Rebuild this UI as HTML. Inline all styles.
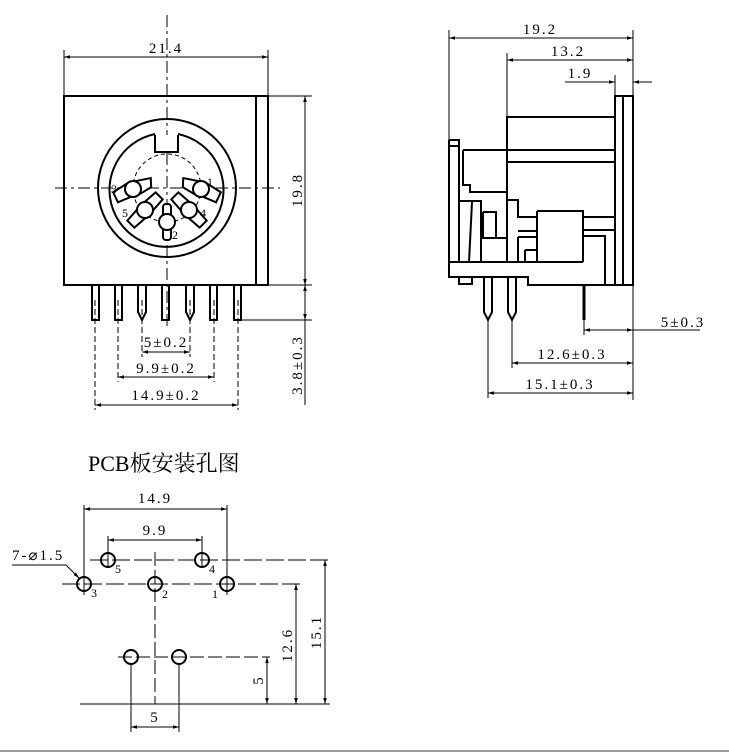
<!DOCTYPE html>
<html><head><meta charset="utf-8"><style>
html,body{margin:0;padding:0;background:#fff;}
svg{display:block;}
text{font-family:"Liberation Serif","Noto Serif CJK SC",serif;fill:#000;}
.d{letter-spacing:2px;}
</style></head><body>
<svg width="729" height="752" viewBox="0 0 729 752" xmlns="http://www.w3.org/2000/svg">
<defs>
<marker id="a" viewBox="0 0 10 10" refX="10" refY="5" markerWidth="8" markerHeight="6" orient="auto-start-reverse"><path d="M0,2 L10,5 L0,8 z" fill="#000"/></marker>
</defs>
<g fill="none" stroke="#000" stroke-width="1">
<!-- FRONT VIEW -->
<rect x="64" y="96" width="204" height="189" stroke-width="2"/>
<line x1="256" y1="96" x2="256" y2="285" stroke-width="2"/>
<line x1="167" y1="15" x2="167" y2="330" stroke-dasharray="12,4,3,4"/>
<line x1="55" y1="188" x2="280" y2="188" stroke-dasharray="12,4,3,4"/>
<circle cx="167" cy="188" r="69" stroke-width="2"/>
<path d="M155,135 L155,152 L178,152 L178,135" stroke-width="2" fill="#fff"/>
<path d="M155,134 A57,57 0 1 0 178,134" stroke-width="2"/>
<circle cx="167" cy="188" r="34" stroke-dasharray="4,3"/>
<g stroke-width="2" fill="#fff">
<g transform="translate(133,189) rotate(-15)"><path d="M-20,-2 L-4,-7 L4,-7 L20,-6 L18,3 L4,7 L-4,7 L-18,9 z"/><circle r="8"/></g>
<g transform="translate(201,189) rotate(15) scale(-1,1)"><path d="M-20,-2 L-4,-7 L4,-7 L20,-6 L18,3 L4,7 L-4,7 L-18,9 z"/><circle r="8"/></g>
<g transform="translate(145,210) rotate(45)"><path d="M-5,-20 L5,-20 L6,-5 L6,5 L5,20 L-5,20 L-6,5 L-6,-5 z"/><circle r="8"/></g>
<g transform="translate(189,210) rotate(-45)"><path d="M-5,-20 L5,-20 L6,-5 L6,5 L5,20 L-5,20 L-6,5 L-6,-5 z"/><circle r="8"/></g>
<g transform="translate(167,222)"><rect x="-4" y="-18" width="8" height="36" rx="3"/><circle r="8"/></g>
</g>
<!-- pins -->
<g stroke-width="2">
<rect x="92" y="285" width="7" height="35"/><rect x="115" y="285" width="7" height="35"/>
<path d="M138,285 L138,312 L142,320 L146,312 L146,285"/>
<rect x="162" y="285" width="7" height="35"/>
<path d="M186,285 L186,312 L190,320 L194,312 L194,285"/>
<rect x="210" y="285" width="7" height="35"/><rect x="234" y="285" width="7" height="35"/>
</g>
<g stroke-dasharray="6,3">
<line x1="95" y1="300" x2="95" y2="410"/><line x1="118" y1="300" x2="118" y2="382"/><line x1="142" y1="300" x2="142" y2="357"/>
<line x1="190" y1="300" x2="190" y2="357"/><line x1="214" y1="300" x2="214" y2="382"/><line x1="238" y1="300" x2="238" y2="410"/>
</g>
<!-- dims front -->
<line x1="64" y1="96" x2="64" y2="50"/><line x1="268" y1="96" x2="268" y2="50"/>
<line x1="64" y1="57" x2="268" y2="57" marker-start="url(#a)" marker-end="url(#a)"/>
<line x1="268" y1="96" x2="312" y2="96"/><line x1="268" y1="285" x2="312" y2="285"/><line x1="240" y1="320" x2="312" y2="320"/>
<line x1="305" y1="96" x2="305" y2="285" marker-start="url(#a)" marker-end="url(#a)"/>
<line x1="305" y1="285" x2="305" y2="320" marker-start="url(#a)" marker-end="url(#a)"/>
<line x1="305" y1="320" x2="305" y2="405"/>
<line x1="142" y1="352" x2="190" y2="352" marker-start="url(#a)" marker-end="url(#a)"/>
<line x1="118" y1="377" x2="214" y2="377" marker-start="url(#a)" marker-end="url(#a)"/>
<line x1="95" y1="405" x2="238" y2="405" marker-start="url(#a)" marker-end="url(#a)"/>

<!-- SIDE VIEW -->
<g stroke-width="2">
<rect x="615" y="96" width="18" height="189"/><line x1="623" y1="96" x2="623" y2="285"/>
<rect x="507" y="117" width="108" height="45"/>
<line x1="507" y1="150" x2="615" y2="150"/>
<path d="M449,140 L459,140 L459,262 M449,140 L449,277 L528,277 L528,285 L615,285"/>
<line x1="449" y1="146" x2="459" y2="146"/>
<path d="M463,150 L507,150 L507,262 M463,150 L463,185 L470,185 L470,192 L507,192"/>
<path d="M459,201 L481,201 L481,262 M481,201 L481,212 M472,202 L469,262"/>
<path d="M483,212 L496,212 L496,238 L507,238 M483,212 L483,238 L496,238"/>
<path d="M507,200 L518,200 L518,217 L537,217 M537,211 L583,211 L583,262 M537,211 L537,262"/>
<path d="M518,231 L537,231 M518,237 L537,237 M518,237 L518,262 M525,250 L537,250 M525,250 L525,262"/>
<path d="M583,217 L615,217 M583,230 L615,230 M583,236 L605,236 L605,285"/>
<line x1="449" y1="262" x2="537" y2="262"/><line x1="528" y1="262" x2="583" y2="262"/>
<rect x="459" y="277" width="13" height="7"/>
<path d="M484,277 L484,312 L488,320 L492,312 L492,277"/>
<path d="M508,277 L508,312 L512,320 L516,312 L516,277"/>
</g>
<line x1="584" y1="285" x2="584" y2="320" stroke-width="3"/>
<!-- side dims -->
<line x1="449" y1="140" x2="449" y2="30"/><line x1="633" y1="96" x2="633" y2="30"/>
<line x1="507" y1="117" x2="507" y2="53"/><line x1="615" y1="96" x2="615" y2="75"/>
<line x1="449" y1="38" x2="633" y2="38" marker-start="url(#a)" marker-end="url(#a)"/>
<line x1="507" y1="60" x2="633" y2="60" marker-start="url(#a)" marker-end="url(#a)"/>
<line x1="565" y1="82" x2="615" y2="82" marker-end="url(#a)"/>
<line x1="652" y1="82" x2="633" y2="82" marker-end="url(#a)"/>
<line x1="633" y1="285" x2="633" y2="400"/>
<line x1="584" y1="320" x2="584" y2="335"/>
<line x1="512" y1="320" x2="512" y2="368"/><line x1="488" y1="320" x2="488" y2="398"/>
<line x1="584" y1="330" x2="633" y2="330" marker-start="url(#a)" marker-end="url(#a)"/>
<line x1="633" y1="330" x2="700" y2="330"/>
<line x1="512" y1="363" x2="633" y2="363" marker-start="url(#a)" marker-end="url(#a)"/>
<line x1="488" y1="393" x2="633" y2="393" marker-start="url(#a)" marker-end="url(#a)"/>

<!-- PCB -->
<g stroke-width="2">
<circle cx="84" cy="584" r="7"/><circle cx="155" cy="584" r="7"/><circle cx="227" cy="584" r="7"/>
<circle cx="108" cy="560" r="7"/><circle cx="202" cy="560" r="7"/>
<circle cx="131" cy="657" r="7"/><circle cx="179" cy="657" r="7"/>
</g>
<line x1="62" y1="584" x2="300" y2="584" stroke-dasharray="18,4"/>
<line x1="90" y1="560" x2="330" y2="560" stroke-dasharray="18,4"/>
<line x1="155" y1="552" x2="155" y2="704" stroke-dasharray="14,4"/>
<line x1="118" y1="657" x2="270" y2="657" stroke-dasharray="14,4"/>
<line x1="80" y1="704" x2="330" y2="704"/>
<line x1="84" y1="505" x2="84" y2="595"/><line x1="227" y1="505" x2="227" y2="595"/>
<line x1="108" y1="536" x2="108" y2="568"/><line x1="202" y1="536" x2="202" y2="568"/>
<line x1="131" y1="664" x2="131" y2="732"/><line x1="179" y1="664" x2="179" y2="732"/>
<line x1="84" y1="509" x2="227" y2="509" marker-start="url(#a)" marker-end="url(#a)"/>
<line x1="108" y1="540" x2="202" y2="540" marker-start="url(#a)" marker-end="url(#a)"/>
<line x1="131" y1="727" x2="179" y2="727" marker-start="url(#a)" marker-end="url(#a)"/>
<line x1="267" y1="657" x2="267" y2="704" marker-start="url(#a)" marker-end="url(#a)"/>
<line x1="296" y1="584" x2="296" y2="704" marker-start="url(#a)" marker-end="url(#a)"/>
<line x1="325" y1="560" x2="325" y2="704" marker-start="url(#a)" marker-end="url(#a)"/>
<path d="M12,565 L66,565 L79,578" marker-end="url(#a)"/>
</g>
<line x1="0" y1="751" x2="729" y2="751" stroke="#999" stroke-width="2"/>

<g font-size="15" class="d">
<text x="166" y="53" text-anchor="middle">21.4</text>
<text transform="translate(302,190) rotate(-90)" text-anchor="middle">19.8</text>
<text transform="translate(302,365) rotate(-90)" text-anchor="middle">3.8±0.3</text>
<text x="166" y="347" text-anchor="middle">5±0.2</text>
<text x="166" y="373" text-anchor="middle">9.9±0.2</text>
<text x="166" y="400" text-anchor="middle">14.9±0.2</text>
<text x="540" y="34" text-anchor="middle">19.2</text>
<text x="568" y="56" text-anchor="middle">13.2</text>
<text x="580" y="78" text-anchor="middle">1.9</text>
<text x="683" y="327" text-anchor="middle">5±0.3</text>
<text x="572" y="359" text-anchor="middle">12.6±0.3</text>
<text x="560" y="389" text-anchor="middle">15.1±0.3</text>
<text x="155" y="503" text-anchor="middle">14.9</text>
<text x="155" y="535" text-anchor="middle">9.9</text>
<text x="155" y="722" text-anchor="middle">5</text>
<text transform="translate(263,680) rotate(-90)" text-anchor="middle">5</text>
<text transform="translate(292,645) rotate(-90)" text-anchor="middle">12.6</text>
<text transform="translate(321,632) rotate(-90)" text-anchor="middle">15.1</text>
<text x="12" y="560">7-⌀1.5</text>
</g>
<g font-size="12" fill="#333">
<text x="111" y="193">3</text><text x="207" y="186">1</text><text x="122" y="217">5</text><text x="200" y="217">4</text><text x="172" y="239">2</text>
<text x="91" y="597">3</text><text x="162" y="598">2</text><text x="212" y="598">1</text><text x="115" y="573">5</text><text x="209" y="573">4</text>
</g>
<text x="88" y="471" font-size="22">PCB板安装孔图</text>
</svg>
</body></html>
